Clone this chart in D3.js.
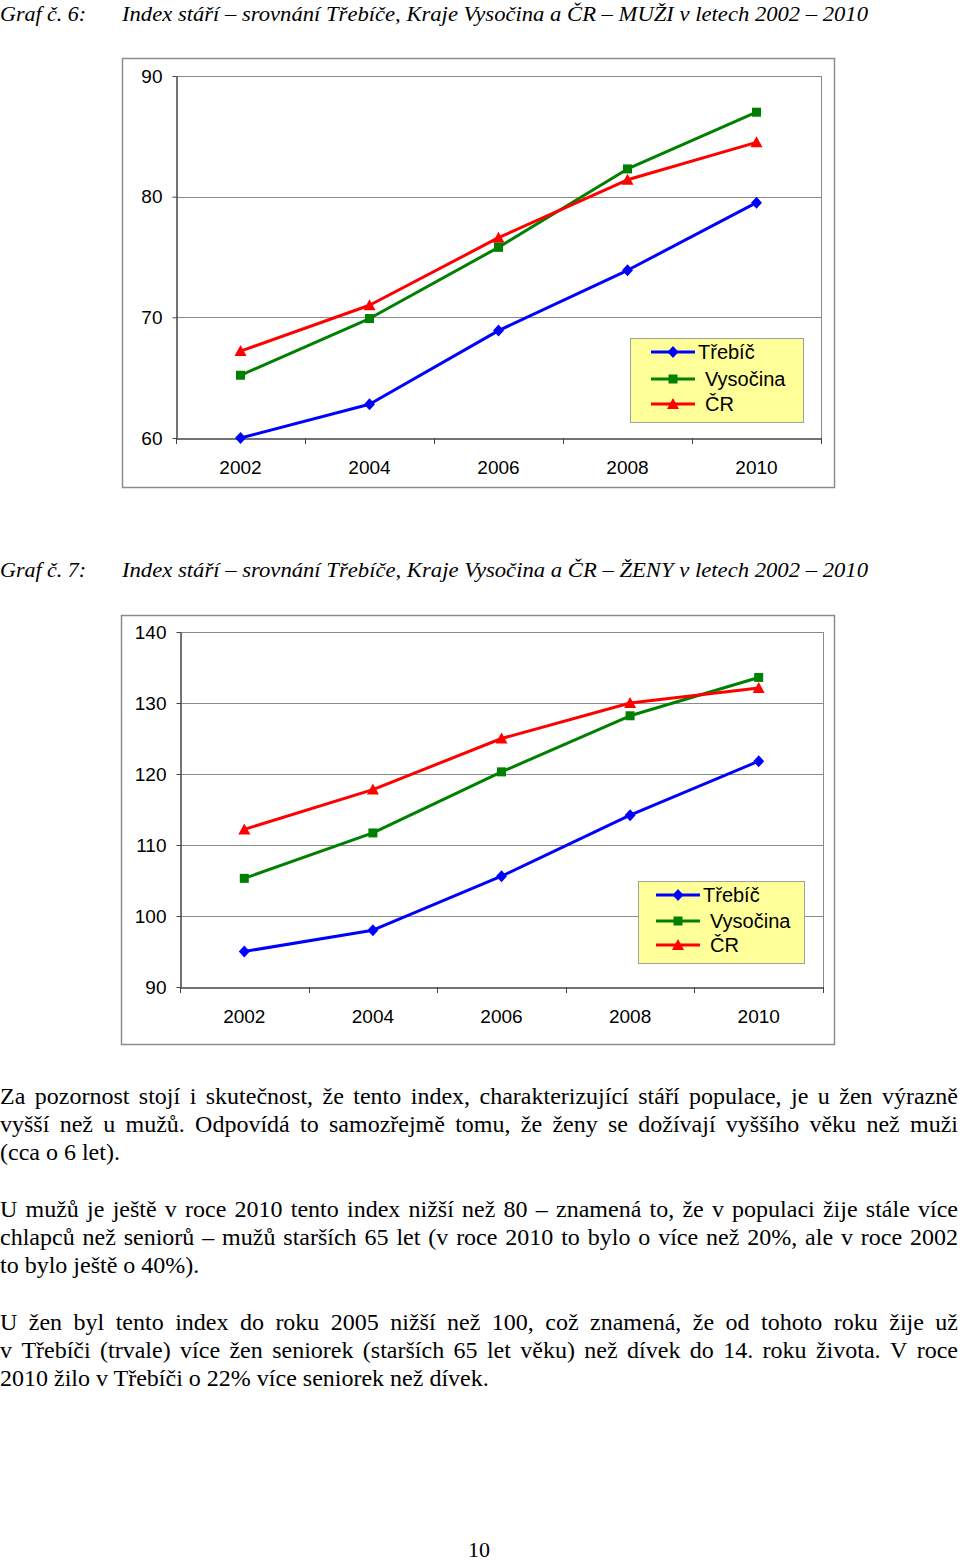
<!DOCTYPE html>
<html><head><meta charset="utf-8">
<script src="https://cdn.jsdelivr.net/npm/d3@7"></script>
<style>
html,body{margin:0;padding:0;background:#fff;}
svg{display:block;}
</style></head>
<body>
<script>
const years = ["2002", "2004", "2006", "2008", "2010"];
const seriesNames = ["Třebíč", "Vysočina", "ČR"];
const seriesColors = ["#0000ff", "#008000", "#ff0000"];
const seriesMarkers = ["diamond", "square", "triangle"];

const menTrebic   = [60.0, 62.8, 68.9, 73.9, 79.5];
const menVysocina = [65.2, 69.9, 75.8, 82.3, 87.0];
const menCR       = [67.2, 71.0, 76.6, 81.4, 84.5];
const menTicks    = [60, 70, 80, 90];

const womenTrebic   = [95.0, 98.0, 105.6, 114.2, 121.8];
const womenVysocina = [105.3, 111.7, 120.3, 128.2, 133.6];
const womenCR       = [112.2, 117.8, 125.0, 130.0, 132.1];
const womenTicks    = [90, 100, 110, 120, 130, 140];

const title1Label = "Graf č. 6:";
const title1Text = "Index stáří – srovnání Třebíče, Kraje Vysočina a ČR – MUŽI v letech 2002 – 2010";
const title2Label = "Graf č. 7:";
const title2Text = "Index stáří – srovnání Třebíče, Kraje Vysočina a ČR – ŽENY v letech 2002 – 2010";

const paragraphs = [
  ["Za pozornost stojí i skutečnost, že tento index, charakterizující stáří populace, je u žen výrazně",
   "vyšší než u mužů. Odpovídá to samozřejmě tomu, že ženy se dožívají vyššího věku než muži",
   "(cca o 6 let)."],
  ["U mužů je ještě v roce 2010 tento index nižší než 80 – znamená to, že v populaci žije stále více",
   "chlapců než seniorů – mužů starších 65 let (v roce 2010 to bylo o více než 20%, ale v roce 2002",
   "to bylo ještě o 40%)."],
  ["U žen byl tento index do roku 2005 nižší než 100, což znamená, že od tohoto roku žije už",
   "v Třebíči (trvale) více žen seniorek (starších 65 let věku) než dívek do 14. roku života. V roce",
   "2010 žilo v Třebíči o 22% více seniorek než dívek."]
];
const pageNumber = "10";

const W = 960, H = 1562;
const svg = d3.select("body").append("svg").attr("width", W).attr("height", H)
  .style("font-family", "'Liberation Sans', Arial, sans-serif");

// Titles
function drawTitle(label, text, baseline) {
  const g = svg.append("g").style("font-family", "'Liberation Serif','Times New Roman',serif")
    .style("font-style", "italic").style("font-size", "22px").attr("fill", "#000");
  g.append("text").attr("x", 0).attr("y", baseline).text(label);
  g.append("text").attr("x", 122).attr("y", baseline).text(text)
    .attr("textLength", 746).attr("lengthAdjust", "spacingAndGlyphs");
}
drawTitle(title1Label, title1Text, 21);
drawTitle(title2Label, title2Text, 577);

function drawChart(cfg) {
  const g = svg.append("g");
  // outer frame
  g.append("rect").attr("x", cfg.box[0] + 0.5).attr("y", cfg.box[1] + 0.5)
    .attr("width", cfg.box[2] - cfg.box[0]).attr("height", cfg.box[3] - cfg.box[1])
    .attr("fill", "#fff").attr("stroke", "#8c8c8c").attr("stroke-width", 1.5);

  const x = d3.scaleBand().domain(years).range([cfg.left, cfg.right]);
  const y = d3.scaleLinear().domain(cfg.domain).range([cfg.bottom, cfg.top]);

  // gridlines
  g.append("g").selectAll("line").data(cfg.ticks.slice(1)).join("line")
    .attr("x1", cfg.left).attr("x2", cfg.right)
    .attr("y1", d => Math.round(y(d)) + 0.5).attr("y2", d => Math.round(y(d)) + 0.5)
    .attr("stroke", "#8a8a8a").attr("stroke-width", 1);
  // right plot border
  g.append("line").attr("x1", cfg.right + 0.5).attr("x2", cfg.right + 0.5)
    .attr("y1", cfg.top).attr("y2", cfg.bottom).attr("stroke", "#8a8a8a");

  // y axis
  const yAxis = d3.axisLeft(y).tickValues(cfg.ticks).tickSize(4).tickPadding(10).tickSizeOuter(0);
  const ya = g.append("g").attr("transform", `translate(${cfg.left + 0.5},0)`).call(yAxis);
  ya.select(".domain").attr("stroke", "#444").attr("stroke-width", 1.5);
  ya.selectAll(".tick line").attr("stroke", "#444");
  ya.selectAll(".tick text").style("font-size", "19px").attr("fill", "#000")
    .style("font-family", "'Liberation Sans', Arial, sans-serif");

  // x axis
  const xAxis = d3.axisBottom(x).tickSize(0).tickPadding(cfg.xLabelPad).tickSizeOuter(0);
  const xa = g.append("g").attr("transform", `translate(0,${cfg.bottom + 0.5})`).call(xAxis);
  xa.select(".domain").attr("stroke", "#444").attr("stroke-width", 1.5);
  xa.selectAll(".tick text").style("font-size", "19px").attr("fill", "#000")
    .style("font-family", "'Liberation Sans', Arial, sans-serif");
  // tick marks between categories
  const edges = years.map(d => x(d)).concat([cfg.right]);
  g.append("g").selectAll("line").data(edges).join("line")
    .attr("x1", d => Math.round(d) + 0.5).attr("x2", d => Math.round(d) + 0.5)
    .attr("y1", cfg.bottom).attr("y2", cfg.bottom + 6)
    .attr("stroke", "#444").attr("stroke-width", 1);

  const line = d3.line().x((d, i) => x(years[i]) + x.bandwidth() / 2).y(d => y(d));
  cfg.series.forEach((vals, si) => {
    g.append("path").datum(vals).attr("d", line).attr("fill", "none")
      .attr("stroke", seriesColors[si]).attr("stroke-width", 3).attr("stroke-linejoin", "round");
  });
  cfg.series.forEach((vals, si) => {
    g.append("g").selectAll("path").data(vals).join("path")
      .attr("transform", (d, i) => `translate(${x(years[i]) + x.bandwidth() / 2},${y(d)})`)
      .attr("d", markerPath(seriesMarkers[si]))
      .attr("fill", seriesColors[si]);
  });

  // legend
  const L = cfg.legend;
  const lg = g.append("g");
  lg.append("rect").attr("x", L.x + 0.5).attr("y", L.y + 0.5).attr("width", L.w).attr("height", L.h)
    .attr("fill", "#ffff99").attr("stroke", "#a0a0a0").attr("stroke-width", 1);
  seriesNames.forEach((name, si) => {
    const cy = L.rows[si];
    lg.append("line").attr("x1", L.lx1).attr("x2", L.lx2).attr("y1", cy).attr("y2", cy)
      .attr("stroke", seriesColors[si]).attr("stroke-width", 3);
    lg.append("path").attr("transform", `translate(${(L.lx1 + L.lx2) / 2},${cy})`)
      .attr("d", markerPath(seriesMarkers[si])).attr("fill", seriesColors[si]);
    lg.append("text").attr("x", L.tx[si]).attr("y", cy).attr("dy", "0.35em")
      .style("font-size", "20px").attr("fill", "#000").text(name);
  });
}

function markerPath(type) {
  if (type === "diamond") return "M0,-6L5.5,0L0,6L-5.5,0Z";
  if (type === "square") return "M-4.5,-4.5H4.5V4.5H-4.5Z";
  return "M0,-6L6,5L-6,5Z";
}

drawChart({
  box: [122, 58, 834, 487],
  left: 176, right: 821, top: 76, bottom: 438,
  domain: [60, 90], ticks: menTicks, xLabelPad: 22,
  series: [menTrebic, menVysocina, menCR],
  legend: { x: 630, y: 338, w: 173, h: 84, rows: [352, 379, 404], lx1: 651, lx2: 695, tx: [698, 705, 705] }
});
drawChart({
  box: [121, 615, 834, 1044],
  left: 180, right: 823, top: 632, bottom: 987,
  domain: [90, 140], ticks: womenTicks, xLabelPad: 22,
  series: [womenTrebic, womenVysocina, womenCR],
  legend: { x: 638, y: 881, w: 166, h: 82, rows: [895, 921, 945], lx1: 656, lx2: 700, tx: [703, 710, 710] }
});

// Body text, justified
const tg = svg.append("g").style("font-family", "'Liberation Serif','Times New Roman',serif")
  .style("font-size", "24px").attr("fill", "#000");
const paraBase = [1104, 1217, 1330];
paragraphs.forEach((lines, pi) => {
  lines.forEach((ln, li) => {
    const yb = paraBase[pi] + li * 28;
    const last = li === lines.length - 1;
    const t = tg.append("text").attr("y", yb).attr("x", 0);
    if (last) { t.text(ln); return; }
    const words = ln.split(" ");
    const widths = words.map(w => {
      const m = tg.append("text").text(w);
      const v = m.node().getComputedTextLength(); m.remove(); return v;
    });
    const total = d3.sum(widths);
    const gap = (958 - total) / (words.length - 1);
    let cx = 0;
    words.forEach((w, wi) => {
      t.append("tspan").attr("x", cx).text(w + (wi < words.length - 1 ? " " : ""));
      cx += widths[wi] + gap;
    });
  });
});

svg.append("text").attr("x", 479).attr("y", 1557).attr("text-anchor", "middle")
  .style("font-family", "'Liberation Serif','Times New Roman',serif").style("font-size", "22px")
  .text(pageNumber);
</script>
</body></html>
